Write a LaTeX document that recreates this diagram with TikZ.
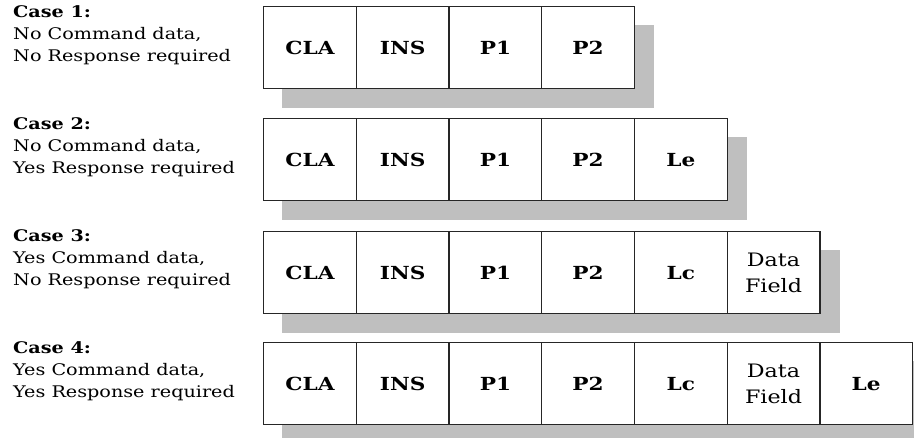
\documentclass[tikz,border=0pt]{standalone}
\usepackage{fontspec}
\setmainfont{DejaVu Serif}
\newfontfamily\widefont[FakeStretch=1.2]{DejaVu Serif}
\usetikzlibrary{backgrounds}
\begin{document}
\begin{tikzpicture}[x=1pt,y=-1pt,
  cell/.style={draw=black!85, line width=1.3pt, fill=white, minimum width=92.7pt,
    minimum height=82pt, inner sep=0pt, anchor=north west, font=\widefont\fontsize{18}{20}\selectfont\bfseries},
  datacell/.style={cell, font=\widefont\fontsize{18.5}{26}\selectfont, align=center},
  shadowfill/.style={fill=black!25},
  caselabel/.style={anchor=north west, align=left, inner sep=0pt,
    font=\widefont\fontsize{16}{22}\selectfont}
]
\useasboundingbox (0,0) rectangle (914,437);
\def\cw{92.7}
% labels
\node[caselabel] (l1) at (13,5) {\textbf{Case 1:}\\No Command data,\\No Response required};
\node[caselabel] (l2) at (13,117) {\textbf{Case 2:}\\No Command data,\\Yes Response required};
\node[caselabel] (l3) at (13,229) {\textbf{Case 3:}\\Yes Command data,\\No Response required};
\node[caselabel] (l4) at (13,341) {\textbf{Case 4:}\\Yes Command data,\\Yes Response required};
% row 1
\node[cell] (a1) at (263,6) {CLA};
\node[cell] (a2) at (263+\cw,6) {INS};
\node[cell] (a3) at (263+2*\cw,6) {P1};
\node[cell] (a4) at (263+3*\cw,6) {P2};
% row 2
\node[cell] (b1) at (263,118) {CLA};
\node[cell] (b2) at (263+\cw,118) {INS};
\node[cell] (b3) at (263+2*\cw,118) {P1};
\node[cell] (b4) at (263+3*\cw,118) {P2};
\node[cell] (b5) at (263+4*\cw,118) {Le};
% row 3
\node[cell] (c1) at (263,231) {CLA};
\node[cell] (c2) at (263+\cw,231) {INS};
\node[cell] (c3) at (263+2*\cw,231) {P1};
\node[cell] (c4) at (263+3*\cw,231) {P2};
\node[cell] (c5) at (263+4*\cw,231) {Lc};
\node[datacell] (c6) at (263+5*\cw,231) {Data\\Field};
% row 4
\node[cell] (d1) at (263,342) {CLA};
\node[cell] (d2) at (263+\cw,342) {INS};
\node[cell] (d3) at (263+2*\cw,342) {P1};
\node[cell] (d4) at (263+3*\cw,342) {P2};
\node[cell] (d5) at (263+4*\cw,342) {Lc};
\node[datacell] (d6) at (263+5*\cw,342) {Data\\Field};
\node[cell] (d7) at (263+6*\cw,342) {Le};
% shadows
\begin{scope}[on background layer]
  \fill[shadowfill] ([shift={(19,19)}]a1.north west) rectangle ([shift={(19,19)}]a4.south east);
  \fill[shadowfill] ([shift={(19,19)}]b1.north west) rectangle ([shift={(19,19)}]b5.south east);
  \fill[shadowfill] ([shift={(19,19)}]c1.north west) rectangle ([shift={(19,19)}]c6.south east);
  \fill[shadowfill] ([shift={(19,19)}]d1.north west) rectangle ([shift={(19,19)}]d7.south east);
\end{scope}
\end{tikzpicture}
\end{document}
